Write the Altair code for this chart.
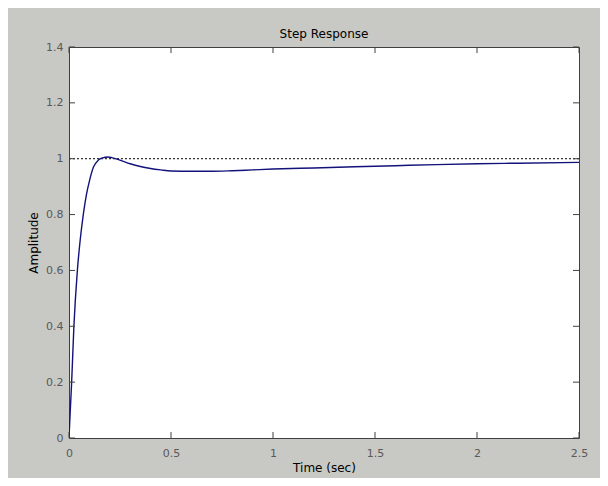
import altair as alt
import pandas as pd

# Step response samples
time_s = [0, 0.005, 0.013, 0.024, 0.041, 0.055, 0.07, 0.085, 0.1, 0.12, 0.144,
          0.165, 0.19, 0.21, 0.25, 0.3, 0.35, 0.4, 0.45, 0.5, 0.6, 0.7, 0.8,
          0.9, 1.0, 1.2, 1.4, 1.6, 1.8, 2.0, 2.2, 2.5]
amplitude = [0, 0.08, 0.2, 0.4, 0.6, 0.71, 0.8, 0.87, 0.92, 0.97, 0.995,
             1.003, 1.006, 1.004, 0.995, 0.982, 0.972, 0.965, 0.96, 0.956, 0.955,
             0.955, 0.957, 0.96, 0.963, 0.967, 0.971, 0.975, 0.979, 0.982, 0.984, 0.987]
steady_state = [1.0]
x_ticks = [0, 0.5, 1, 1.5, 2, 2.5]
y_ticks = [0, 0.2, 0.4, 0.6, 0.8, 1.0, 1.2, 1.4]

W, H = 510, 391
TICK = 6
FRAME = "#404040"
LABEL = "#5a5a5a"
FONT = "DejaVu Sans"

resp = pd.DataFrame({"t": time_s, "y": amplitude})
ss = pd.DataFrame({"y": steady_state})
xt = pd.DataFrame({"t": x_ticks})
yt = pd.DataFrame({"y": y_ticks})

xscale = alt.Scale(domain=[0, 2.5], nice=False, zero=False)
yscale = alt.Scale(domain=[0, 1.4], nice=False, zero=False)

xaxis = alt.Axis(values=x_ticks, title="Time (sec)", grid=False, ticks=False, tickSize=0,
                 domain=False, labelFlush=False, labelPadding=9, labelFont=FONT,
                 labelFontSize=11, labelColor=LABEL, titleFont=FONT, titleFontSize=12,
                 titleFontWeight="normal", titleColor="#000000", titlePadding=4,
                 format="~g")
yaxis = alt.Axis(values=y_ticks, title="Amplitude", grid=False, ticks=False, tickSize=0,
                 domain=False, labelFlush=False, labelPadding=6, labelFont=FONT,
                 labelFontSize=11, labelColor=LABEL, titleFont=FONT, titleFontSize=12,
                 titleFontWeight="normal", titleColor="#000000", titlePadding=5,
                 format="~g")

line = alt.Chart(resp).mark_line(color="#12127a", strokeWidth=1.4, clip=True,
                                 interpolate="monotone").encode(
    x=alt.X("t:Q", scale=xscale, axis=xaxis),
    y=alt.Y("y:Q", scale=yscale, axis=yaxis),
)

ref = alt.Chart(ss).mark_rule(color="#000000", strokeWidth=1, strokeDash=[2, 2]).encode(
    y=alt.Y("y:Q", scale=yscale)
)

bottom_ticks = alt.Chart(xt).mark_rule(color=FRAME, strokeWidth=1).encode(
    x=alt.X("t:Q", scale=xscale), y=alt.value(H), y2=alt.value(H - TICK))
top_ticks = alt.Chart(xt).mark_rule(color=FRAME, strokeWidth=1).encode(
    x=alt.X("t:Q", scale=xscale), y=alt.value(0), y2=alt.value(TICK))
left_ticks = alt.Chart(yt).mark_rule(color=FRAME, strokeWidth=1).encode(
    y=alt.Y("y:Q", scale=yscale), x=alt.value(0), x2=alt.value(TICK))
right_ticks = alt.Chart(yt).mark_rule(color=FRAME, strokeWidth=1).encode(
    y=alt.Y("y:Q", scale=yscale), x=alt.value(W), x2=alt.value(W - TICK))

chart = alt.layer(ref, line, bottom_ticks, top_ticks, left_ticks, right_ticks).properties(
    width=W, height=H,
    title=alt.TitleParams("Step Response", font=FONT, fontSize=12, fontWeight="normal",
                          color="#000000", offset=0, anchor="middle"),
    autosize=alt.AutoSizeParams(type="none"),
    padding={"left": 61, "top": 39, "right": 21, "bottom": 40},
    background="#c8c8c4",
).configure_view(
    fill="#ffffff", stroke=FRAME, strokeWidth=1
)

chart.save("out.html", embed_options={"renderer": "svg", "actions": False})
